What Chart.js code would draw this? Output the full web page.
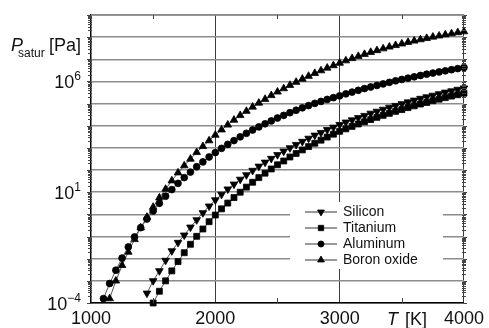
<!DOCTYPE html>
<html>
<head>
<meta charset="utf-8">
<script src="https://cdn.jsdelivr.net/npm/chart.js@4.4.1/dist/chart.umd.min.js"></script>
<style>
    html, body { margin: 0; padding: 0; background: #fff; }
    #wrap { width: 489px; height: 328px; }
</style>
</head>
<body>
<div id="wrap"><canvas id="psatChart" width="489" height="328"></canvas></div>
<script>
// Temperature grid [K], shared by all series (null = no point there)
const temperatureK = [
    1100, 1150, 1200, 1250, 1300, 1350, 1400, 1450, 1500, 1550,
    1600, 1650, 1700, 1750, 1800, 1850, 1900, 1950, 2000, 2050,
    2100, 2150, 2200, 2250, 2300, 2350, 2400, 2450, 2500, 2550,
    2600, 2650, 2700, 2750, 2800, 2850, 2900, 2950, 3000, 3050,
    3100, 3150, 3200, 3250, 3300, 3350, 3400, 3450, 3500, 3550,
    3600, 3650, 3700, 3750, 3800, 3850, 3900, 3950, 4000
];

// log10 of saturation pressure [Pa]
const siliconLog = [
    null, null, null, null, null, null, null,
    -3.56, -3.0, -2.55, -2.08, -1.65, -1.27, -0.94, -0.58, -0.25, 0.07, 0.37, 0.65,
    0.9, 1.14, 1.36, 1.58, 1.78, 1.98, 2.17, 2.35, 2.52, 2.69,
    2.85, 3.0, 3.15, 3.29, 3.43, 3.57, 3.69, 3.82, 3.93, 4.05,
    4.16, 4.26, 4.36, 4.46, 4.56, 4.65, 4.74, 4.83, 4.91, 4.99,
    5.07, 5.15, 5.23, 5.3, 5.37, 5.44, 5.51, 5.57, 5.64, 5.7
];
const titaniumLog = [
    null, null, null, null, null, null, null, null,
    -4.0, -3.47, -3.0, -2.55, -2.13, -1.73, -1.35, -0.99, -0.66, -0.33, -0.03,
    0.25, 0.51, 0.76, 1.0, 1.23, 1.45, 1.66, 1.86, 2.05, 2.24,
    2.41, 2.59, 2.75, 2.91, 3.06, 3.21, 3.35, 3.49, 3.62, 3.75,
    3.86, 3.97, 4.08, 4.18, 4.28, 4.38, 4.47, 4.56, 4.65, 4.73,
    4.82, 4.9, 4.98, 5.05, 5.13, 5.2, 5.27, 5.34, 5.4, 5.47
];
const aluminumLog = [
    -3.8, -3.12, -2.52, -1.97, -1.47, -1.02, -0.6, -0.21, 0.15, 0.5,
    0.82, 1.12, 1.4, 1.66, 1.91, 2.15, 2.37, 2.59, 2.79,
    2.98, 3.16, 3.33, 3.5, 3.66, 3.81, 3.95, 4.09, 4.22, 4.35,
    4.47, 4.59, 4.7, 4.81, 4.91, 5.01, 5.1, 5.19, 5.27, 5.35,
    5.44, 5.52, 5.6, 5.68, 5.75, 5.82, 5.89, 5.96, 6.03, 6.09,
    6.15, 6.21, 6.27, 6.33, 6.38, 6.43, 6.48, 6.53, 6.58, 6.63
];
const boronOxideLog = [
    null,
    -3.8, -3.0, -2.3, -1.7, -1.13, -0.6, -0.12, 0.33, 0.75,
    1.14, 1.52, 1.88, 2.2, 2.5, 2.8, 3.07, 3.33, 3.58,
    3.82, 4.04, 4.26, 4.47, 4.66, 4.85, 5.03, 5.2, 5.37, 5.53,
    5.68, 5.83, 5.97, 6.11, 6.24, 6.37, 6.49, 6.61, 6.72, 6.83,
    6.94, 7.04, 7.14, 7.23, 7.32, 7.4, 7.48, 7.56, 7.63, 7.7,
    7.77, 7.83, 7.89, 7.95, 8.01, 8.06, 8.11, 8.16, 8.21, 8.25
];

const seriesNames = ['Silicon', 'Titanium', 'Aluminum', 'Boron oxide'];
const xTicks = [1000, 2000, 3000, 4000];
const xMinorTicks = [1500, 2500, 3500];
const yDecades = [-4, -3, -2, -1, 0, 1, 2, 3, 4, 5, 6, 7, 8, 9];
const yLabelled = [-4, 1, 6];

const FONT = '"Liberation Sans", Arial, Helvetica, sans-serif';

function toPoints(logs) {
    return temperatureK.map((t, i) => ({ x: t, y: logs[i] === null ? null : Math.pow(10, logs[i]) }));
}

function makeSeries(label, logs, style, radius, rotation) {
    return {
        label: label,
        data: toPoints(logs),
        borderColor: '#555',
        borderWidth: 1,
        pointStyle: style,
        pointRotation: rotation || 0,
        pointRadius: radius,
        pointHoverRadius: radius,
        pointBackgroundColor: '#000',
        pointBorderColor: '#000',
        pointBorderWidth: 0.8,
        showLine: true,
        clip: false
    };
}

// Frame details, superscript labels, axis titles and inset legend
const decorPlugin = {
    id: 'decor',
    afterDraw(chart) {
        const ctx = chart.ctx;
        const a = chart.chartArea;
        const xs = chart.scales.x;
        const ys = chart.scales.y;
        ctx.save();

        // top frame line
        ctx.strokeStyle = '#888';
        ctx.lineWidth = 1.5;
        ctx.beginPath();
        ctx.moveTo(a.left, a.top);
        ctx.lineTo(a.right, a.top);
        ctx.stroke();

        // minor log ticks on left and right
        ctx.strokeStyle = '#444';
        ctx.lineWidth = 1;
        ctx.beginPath();
        yDecades.forEach(e => {
            const yMaj = Math.round(ys.getPixelForValue(Math.pow(10, e))) + 0.5;
            ctx.moveTo(a.left - 4, yMaj); ctx.lineTo(a.left, yMaj);
            ctx.moveTo(a.right, yMaj); ctx.lineTo(a.right + 3, yMaj);
            if (e === 9) return;
            for (let k = 2; k <= 9; k++) {
                const y = Math.round(ys.getPixelForValue(k * Math.pow(10, e))) + 0.5;
                ctx.moveTo(a.left - 3, y); ctx.lineTo(a.left + 1, y);
                ctx.moveTo(a.right - 2, y); ctx.lineTo(a.right + 2, y);
            }
        });
        xMinorTicks.forEach(t => {
            const x = Math.round(xs.getPixelForValue(t)) + 0.5;
            ctx.moveTo(x, a.bottom); ctx.lineTo(x, a.bottom - 5);
            ctx.moveTo(x, a.top); ctx.lineTo(x, a.top + 4);
        });
        ctx.stroke();

        // y tick labels 10^n
        ctx.fillStyle = '#111';
        ctx.textAlign = 'left';
        ctx.textBaseline = 'alphabetic';
        yLabelled.forEach(e => {
            const y = ys.getPixelForValue(Math.pow(10, e));
            const sup = e < 0 ? '\u2212' + Math.abs(e) : String(e);
            ctx.font = '12px ' + FONT;
            const wSup = ctx.measureText(sup).width;
            ctx.font = '18px ' + FONT;
            const wBase = ctx.measureText('10').width;
            const right = 81;
            ctx.fillText('10', right - wSup - wBase, y + 7);
            ctx.font = '12px ' + FONT;
            ctx.fillText(sup, right - wSup, y - 1);
        });

        // y axis title: P_satur [Pa]
        ctx.font = 'italic 18px ' + FONT;
        ctx.fillText('P', 11, 51);
        ctx.font = '12px ' + FONT;
        ctx.fillText('satur', 18, 57);
        ctx.font = '18px ' + FONT;
        ctx.fillText('[Pa]', 49, 51);

        // x axis title: T [K]
        ctx.font = 'italic 18px ' + FONT;
        ctx.fillText('T', 387, 325);
        ctx.font = '18px ' + FONT;
        ctx.fillText('[K]', 405, 325);

        // inset legend
        ctx.fillStyle = '#fff';
        ctx.fillRect(290, 202, 153, 67);
        const rowY = [212, 228, 244, 260];
        chart.data.datasets.forEach((ds, i) => {
            const y = rowY[i];
            ctx.strokeStyle = '#777';
            ctx.lineWidth = 1.5;
            ctx.beginPath();
            ctx.moveTo(305, y);
            ctx.lineTo(337, y);
            ctx.stroke();
            ctx.fillStyle = '#000';
            ctx.strokeStyle = '#000';
            ctx.lineWidth = 0.8;
            Chart.helpers.drawPoint(ctx, {
                pointStyle: ds.pointStyle,
                rotation: ds.pointRotation,
                radius: ds.pointRadius * 0.9,
                borderWidth: 0.8
            }, 321, y);
            ctx.fillStyle = '#111';
            ctx.font = '14px ' + FONT;
            ctx.textBaseline = 'middle';
            ctx.fillText(ds.label, 343, y + 0.5);
            ctx.textBaseline = 'alphabetic';
        });

        ctx.restore();
    }
};

const chart = new Chart(document.getElementById('psatChart').getContext('2d'), {
    type: 'line',
    data: {
        datasets: [
            makeSeries(seriesNames[0], siliconLog, 'triangle', 4.4, 180),
            makeSeries(seriesNames[1], titaniumLog, 'rect', 4.2),
            makeSeries(seriesNames[2], aluminumLog, 'circle', 3.4),
            makeSeries(seriesNames[3], boronOxideLog, 'triangle', 4.4)
        ]
    },
    options: {
        responsive: false,
        animation: false,
        spanGaps: false,
        layout: { padding: { left: 0, top: 15, right: 23, bottom: 0 } },
        plugins: {
            legend: { display: false },
            tooltip: { enabled: false }
        },
        scales: {
            x: {
                type: 'linear',
                min: 1000,
                max: 4000,
                afterBuildTicks: (scale) => {
                    scale.ticks = xTicks.map(v => ({ value: v }));
                },
                afterFit: (scale) => { scale.height = 25; },
                grid: {
                    drawTicks: false,
                    color: (c) => (c.tick && c.tick.value > 1000) ? '#3a3a3a' : 'rgba(0,0,0,0)',
                    lineWidth: 1
                },
                border: { display: true, color: '#000', width: 1.5 },
                ticks: {
                    padding: 5,
                    color: '#111',
                    font: { family: FONT, size: 18 },
                    maxRotation: 0,
                    autoSkip: false,
                    callback: (v) => String(v)
                }
            },
            y: {
                type: 'logarithmic',
                min: 1e-4,
                max: 1e9,
                afterBuildTicks: (scale) => {
                    scale.ticks = yDecades.map(e => ({ value: Math.pow(10, e), major: true }));
                },
                afterFit: (scale) => { scale.width = 91; },
                grid: {
                    drawTicks: false,
                    color: '#8c8c8c',
                    lineWidth: 1.5
                },
                border: { display: true, color: '#000', width: 1.5 },
                ticks: { display: false }
            }
        }
    },
    plugins: [decorPlugin]
});
</script>
</body>
</html>
